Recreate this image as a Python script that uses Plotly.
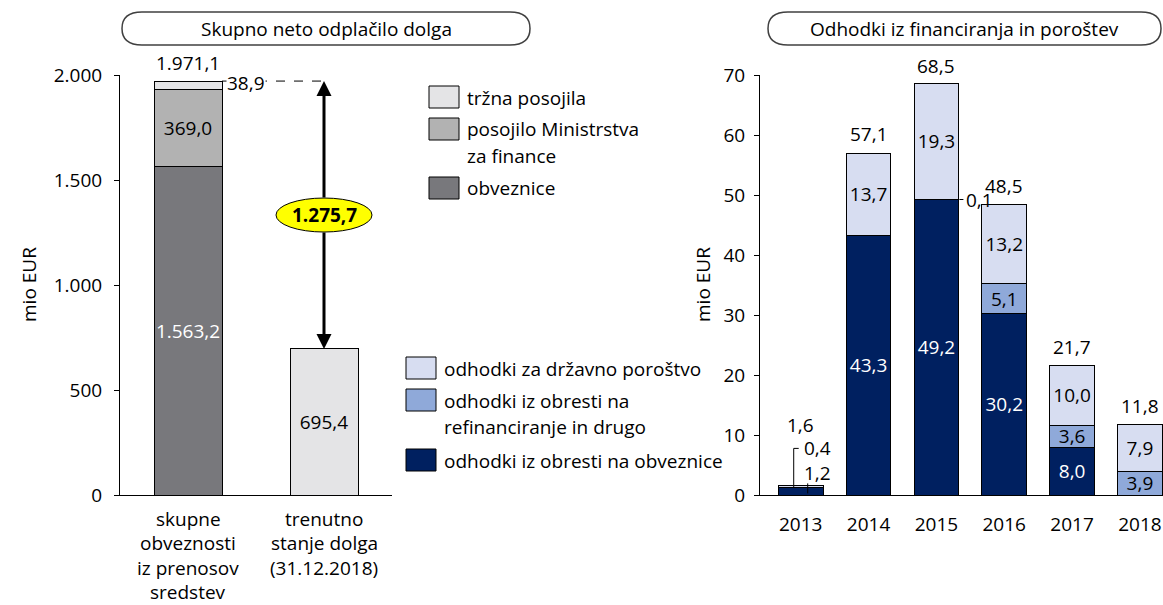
import plotly.graph_objects as go

# ---- data (mio EUR) ----
left_cats = ["skupne\nobveznosti\niz prenosov\nsredstev", "trenutno\nstanje dolga\n(31.12.2018)"]
obveznice = [1563.2]
posojilo_mf = [369.0]
trzna_posojila = [38.9]
stanje_dolga = [695.4]
skupaj_left = 1971.1

years = ["2013", "2014", "2015", "2016", "2017", "2018"]
obresti_obveznice = [1.2, 43.3, 49.2, 30.2, 8.0, 0.0]
obresti_refin = [0.0, 0.0, 0.1, 5.1, 3.6, 3.9]
porostvo = [0.4, 13.7, 19.3, 13.2, 10.0, 7.9]
skupaj_right = [1.6, 57.1, 68.5, 48.5, 21.7, 11.8]

W, H = 1163, 605
FONT = "Open Sans"
FS = 19
BLACK = "#000000"


def px(x):
    return x / W


def py(y):
    return 1 - y / H


def fmt(v):
    s = f"{v:,.1f}"
    return s.replace(",", "X").replace(".", ",").replace("X", ".")


def lbl(vals, minv):
    return [fmt(v) if v >= minv else "" for v in vals]


GREY_D, GREY_M, GREY_L = "#78787c", "#b2b2b2", "#e4e4e6"
NAVY, BLUE_M, BLUE_L = "#002060", "#8fa9d9", "#d7ddf1"

fig = go.Figure()

bw_left = 0.5
bw_right = 0.66
line = dict(color=BLACK, width=1)

for vals, col, tcol, name in [
    (obveznice, GREY_D, "white", "obveznice"),
    (posojilo_mf, GREY_M, BLACK, "posojilo Ministrstva za finance"),
    (trzna_posojila, GREY_L, BLACK, "tržna posojila"),
]:
    fig.add_trace(go.Bar(x=[0], y=vals, name=name, width=bw_left, marker=dict(color=col, line=line),
                         text=lbl(vals, 100), textposition="inside", insidetextanchor="middle",
                         textangle=0, insidetextfont=dict(color=tcol, size=FS, family=FONT),
                         xaxis="x", yaxis="y", showlegend=False))
fig.add_trace(go.Bar(x=[1], y=stanje_dolga, width=bw_left, marker=dict(color=GREY_L, line=line),
                     text=lbl(stanje_dolga, 100), textposition="inside", insidetextanchor="middle",
                     textangle=0, insidetextfont=dict(color=BLACK, size=FS, family=FONT),
                     xaxis="x", yaxis="y", showlegend=False))

xr = list(range(len(years)))
for vals, col, tcol, name in [
    (obresti_obveznice, NAVY, "white", "odhodki iz obresti na obveznice"),
    (obresti_refin, BLUE_M, BLACK, "odhodki iz obresti na refinanciranje in drugo"),
    (porostvo, BLUE_L, BLACK, "odhodki za državno poroštvo"),
]:
    fig.add_trace(go.Bar(x=xr, y=vals, name=name, width=bw_right, marker=dict(color=col, line=line),
                         text=lbl(vals, 3), textposition="inside", insidetextanchor="middle",
                         textangle=0, insidetextfont=dict(color=tcol, size=FS, family=FONT),
                         xaxis="x2", yaxis="y2", showlegend=False))

ydom = [py(495), py(75)]
axis_common = dict(showline=True, linecolor=BLACK, linewidth=1, showgrid=False, zeroline=False,
                   automargin=False, tickfont=dict(size=FS, color=BLACK, family=FONT), fixedrange=True)

fig.update_layout(
    template="none",
    width=W, height=H, barmode="stack", separators=",.",
    plot_bgcolor="white", paper_bgcolor="white",
    margin=dict(l=0, r=0, t=0, b=0, pad=0, autoexpand=False),
    font=dict(family=FONT, size=FS, color=BLACK),
    uniformtext=dict(minsize=FS, mode="show"),
    showlegend=False,
    xaxis=dict(domain=[px(120), px(392)], range=[-0.5, 1.5], showticklabels=False, ticks="",
               anchor="y", **axis_common),
    yaxis=dict(domain=ydom, range=[0, 2000], dtick=500, tickformat=",d", ticks="outside",
               ticklen=5, tickcolor=BLACK, ticklabelstandoff=8, anchor="x", **axis_common),
    xaxis2=dict(domain=[px(760), 1], range=[-0.6, 5.34], tickvals=xr, ticktext=years, ticks="",
                ticklabelstandoff=12, anchor="y2", **axis_common),
    yaxis2=dict(domain=ydom, range=[0, 70], dtick=10, ticks="outside", ticklen=5, tickcolor=BLACK,
                ticklabelstandoff=5, anchor="x2", **axis_common),
)

ann = []
shapes = []

# left category labels (multi-line)
for i, cat in enumerate(left_cats):
    for j, ln in enumerate(cat.split("\n")):
        ann.append(dict(x=i, y=0, xref="x", yref="y", text=ln, showarrow=False,
                        yanchor="middle", yshift=-(24 + j * 24.4)))

# left total and small segment label
ann.append(dict(x=0, y=skupaj_left, xref="x", yref="y", text=fmt(skupaj_left), showarrow=False,
                yanchor="bottom", yshift=3))
shapes.append(dict(type="line", xref="x", yref="y", x0=bw_left / 2, x1=1, y0=skupaj_left, y1=skupaj_left,
                   line=dict(color=BLACK, width=1, dash="dash")))
ann.append(dict(x=bw_left / 2, y=skupaj_left, xref="x", yref="y", text=fmt(trzna_posojila[0]),
                showarrow=False, xanchor="left", xshift=4, yshift=-2, bgcolor="white", borderpad=0))

# difference arrow with yellow ellipse
mid = (skupaj_left + stanje_dolga[0]) / 2
for tgt in (skupaj_left, stanje_dolga[0]):
    ann.append(dict(x=1, y=tgt, xref="x", yref="y", ax=1, ay=mid, axref="x", ayref="y", text="",
                    showarrow=True, arrowhead=2, arrowsize=1, arrowwidth=3, arrowcolor=BLACK,
                    startstandoff=16))
shapes.append(dict(type="circle", xref="x", yref="y", xsizemode="pixel", ysizemode="pixel",
                   xanchor=1, yanchor=mid, x0=-48, x1=48, y0=-17, y1=17,
                   fillcolor="#ffff00", line=dict(color=BLACK, width=1), layer="above"))
ann.append(dict(x=1, y=mid, xref="x", yref="y", text="<b>" + fmt(skupaj_left - stanje_dolga[0]) + "</b>",
                showarrow=False))

# right totals
for i, t in enumerate(skupaj_right):
    if i == 0:
        continue
    ann.append(dict(x=i, y=t, xref="x2", yref="y2", text=fmt(t), showarrow=False,
                    yanchor="bottom", yshift=3))

# 2013 small labels with leaders
ann.append(dict(x=0, y=skupaj_right[0], xref="x2", yref="y2", text=fmt(skupaj_right[0]),
                showarrow=False, yshift=60))
ann.append(dict(x=0, y=skupaj_right[0], xref="x2", yref="y2", text=fmt(porostvo[0]),
                showarrow=False, xanchor="left", xshift=1, yshift=37))
ann.append(dict(x=0, y=skupaj_right[0], xref="x2", yref="y2", text=fmt(obresti_obveznice[0]),
                showarrow=False, xanchor="left", xshift=1, yshift=12))
shapes.append(dict(type="path", xref="x2", yref="y2", xsizemode="pixel", ysizemode="pixel",
                   xanchor=0, yanchor=skupaj_right[0], path="M -7,-2 L -7,37 L -2,37",
                   line=dict(color=BLACK, width=1)))
shapes.append(dict(type="path", xref="x2", yref="y2", xsizemode="pixel", ysizemode="pixel",
                   xanchor=0, yanchor=skupaj_right[0], path="M 7,2 L 7,-8",
                   line=dict(color=BLACK, width=1)))

# 2015 tiny segment
y15 = obresti_obveznice[2] + obresti_refin[2] / 2
ann.append(dict(x=2, y=y15, xref="x2", yref="y2", text=fmt(obresti_refin[2]), showarrow=False,
                xanchor="left", xshift=28))
shapes.append(dict(type="path", xref="x2", yref="y2", xsizemode="pixel", ysizemode="pixel",
                   xanchor=2, yanchor=y15, path="M 23,0 L 27,0", line=dict(color=BLACK, width=1)))

# y-axis titles
for xx in (29, 703):
    ann.append(dict(x=px(xx), y=py(285), xref="paper", yref="paper", text="mio EUR", textangle=-90,
                    showarrow=False, xanchor="center", yanchor="middle"))

# panel titles in rounded boxes
def pill(x0, x1, y0, y1, r=20):
    ym = (y0 + y1) / 2
    pts = (f"M {px(x0 + r)},{py(y0)} L {px(x1 - r)},{py(y0)} "
           f"Q {px(x1)},{py(y0)} {px(x1)},{py(ym)} Q {px(x1)},{py(y1)} {px(x1 - r)},{py(y1)} "
           f"L {px(x0 + r)},{py(y1)} Q {px(x0)},{py(y1)} {px(x0)},{py(ym)} "
           f"Q {px(x0)},{py(y0)} {px(x0 + r)},{py(y0)} Z")
    return dict(type="path", xref="paper", yref="paper", path=pts, line=dict(color="#404040", width=1.5))


for (x0, x1, title) in [(122, 530, "Skupno neto odplačilo dolga"),
                        (768, 1161, "Odhodki iz financiranja in poroštev")]:
    shapes.append(pill(x0, x1, 12, 45))
    ann.append(dict(x=px((x0 + x1) / 2), y=py(28.5), xref="paper", yref="paper", text=title,
                    showarrow=False, xanchor="center", yanchor="middle"))

# custom legends
legend_left = [("tržna posojila", GREY_L, 86), ("posojilo Ministrstva\nza finance", GREY_M, 118),
               ("obveznice", GREY_D, 177)]
legend_right = [("odhodki za državno poroštvo", BLUE_L, 357),
                ("odhodki iz obresti na\nrefinanciranje in drugo", BLUE_M, 389),
                ("odhodki iz obresti na obveznice", NAVY, 449)]
for items, lx in ((legend_left, 429), (legend_right, 406)):
    for name, col, top in items:
        shapes.append(dict(type="rect", xref="paper", yref="paper", x0=px(lx), x1=px(lx + 30),
                           y0=py(top), y1=py(top + 22), fillcolor=col, line=dict(color=BLACK, width=1)))
        for j, ln in enumerate(name.split("\n")):
            ann.append(dict(x=px(lx + 36), y=py(top + 11.5 + j * 26.5), xref="paper", yref="paper",
                            text=ln, showarrow=False, xanchor="left", yanchor="middle"))

fig.update_layout(annotations=ann, shapes=shapes)
fig.write_html("out.html", config={"displayModeBar": False},
               post_script="document.body.style.margin='0';")
